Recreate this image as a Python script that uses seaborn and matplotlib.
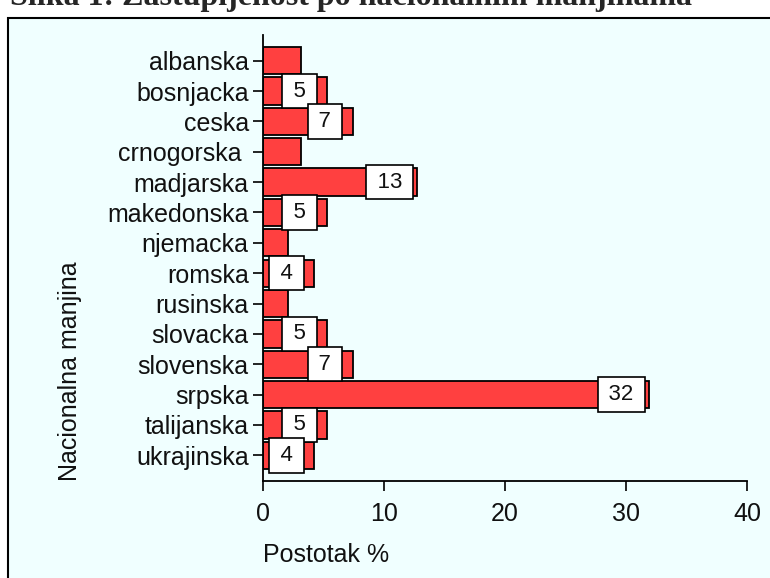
import matplotlib
matplotlib.use("Agg")
import matplotlib.pyplot as plt
from matplotlib.patches import Rectangle
import seaborn as sns
import pandas as pd

# Data: share of respondents by national minority (%)
manjine = ["albanska", "bosnjacka", "ceska", "crnogorska ", "madjarska",
           "makedonska", "njemacka", "romska", "rusinska", "slovacka",
           "slovenska", "srpska", "talijanska", "ukrajinska"]
postotak = [3.19, 5.32, 7.45, 3.19, 12.77, 5.32, 2.13, 4.26, 2.13, 5.32,
            7.45, 31.91, 5.32, 4.26]
oznake = ["", "5", "7", "", "13", "5", "", "4", "", "5", "7", "32", "5", "4"]
x_ticks = [0, 10, 20, 30, 40]

df = pd.DataFrame({"manjina": manjine, "postotak": postotak})

sns.set_style("white")
plt.rcParams["font.family"] = ["Liberation Sans", "DejaVu Sans"]

fig = plt.figure(figsize=(7.7, 5.78), dpi=100)
fig.patch.set_facecolor("white")

# light panel with black frame (cut off at right/bottom like the original)
panel = Rectangle((8 / 770, -0.01), 1.0, 1 - 18 / 578 + 0.01,
                  transform=fig.transFigure, facecolor="#F0FFFF",
                  edgecolor="black", linewidth=1.5, zorder=-10)
fig.patches.append(panel)

# title, mostly clipped at the top of the image
fig.text(10 / 770, 1 - 5 / 578, "Slika 1: Zastupljenost po nacionalnim manjinama",
         family="Liberation Serif", fontweight="bold", fontsize=23,
         ha="left", va="baseline", zorder=-5)

ax = fig.add_axes([262.7 / 770, 1 - 481 / 578, (747 - 262.7) / 770, (481 - 35) / 578])
ax.set_facecolor("none")
ax.set_zorder(2)

sns.barplot(data=df, x="postotak", y="manjina", orient="h", ax=ax,
            color="#FF4040", saturation=1, width=0.9,
            edgecolor="black", linewidth=1.3)

# value boxes
for i, (v, lab) in enumerate(zip(postotak, oznake)):
    if lab:
        ax.annotate("\u2009" + lab + "\u2009", xy=(v, i), xytext=(-20, 0),
                    textcoords="offset points", ha="center", va="center",
                    fontsize=16, color="#111111", zorder=5,
                    bbox=dict(boxstyle="square,pad=0.3", facecolor="white",
                              edgecolor="black", linewidth=1.2))

ax.set_xlim(0, 40)
ax.set_ylim(len(manjine) - 1 + 0.845, -0.845)
ax.set_xticks(x_ticks)
ax.set_xticklabels([str(t) for t in x_ticks])
ax.tick_params(axis="both", labelsize=18, length=7, width=1.2,
               direction="out", color="black", labelcolor="#111111",
               left=True, bottom=True)
ax.tick_params(axis="x", pad=8)
ax.tick_params(axis="y", pad=3)

sns.despine(ax=ax)
for s in ["left", "bottom"]:
    ax.spines[s].set_linewidth(1.3)
    ax.spines[s].set_color("black")

ax.set_xlabel("Postotak %", fontsize=18, loc="left", labelpad=12, color="#111111")
ax.set_ylabel("Nacionalna manjina", fontsize=18, loc="bottom", labelpad=18, color="#111111")

fig.savefig("out.png", dpi=100)
